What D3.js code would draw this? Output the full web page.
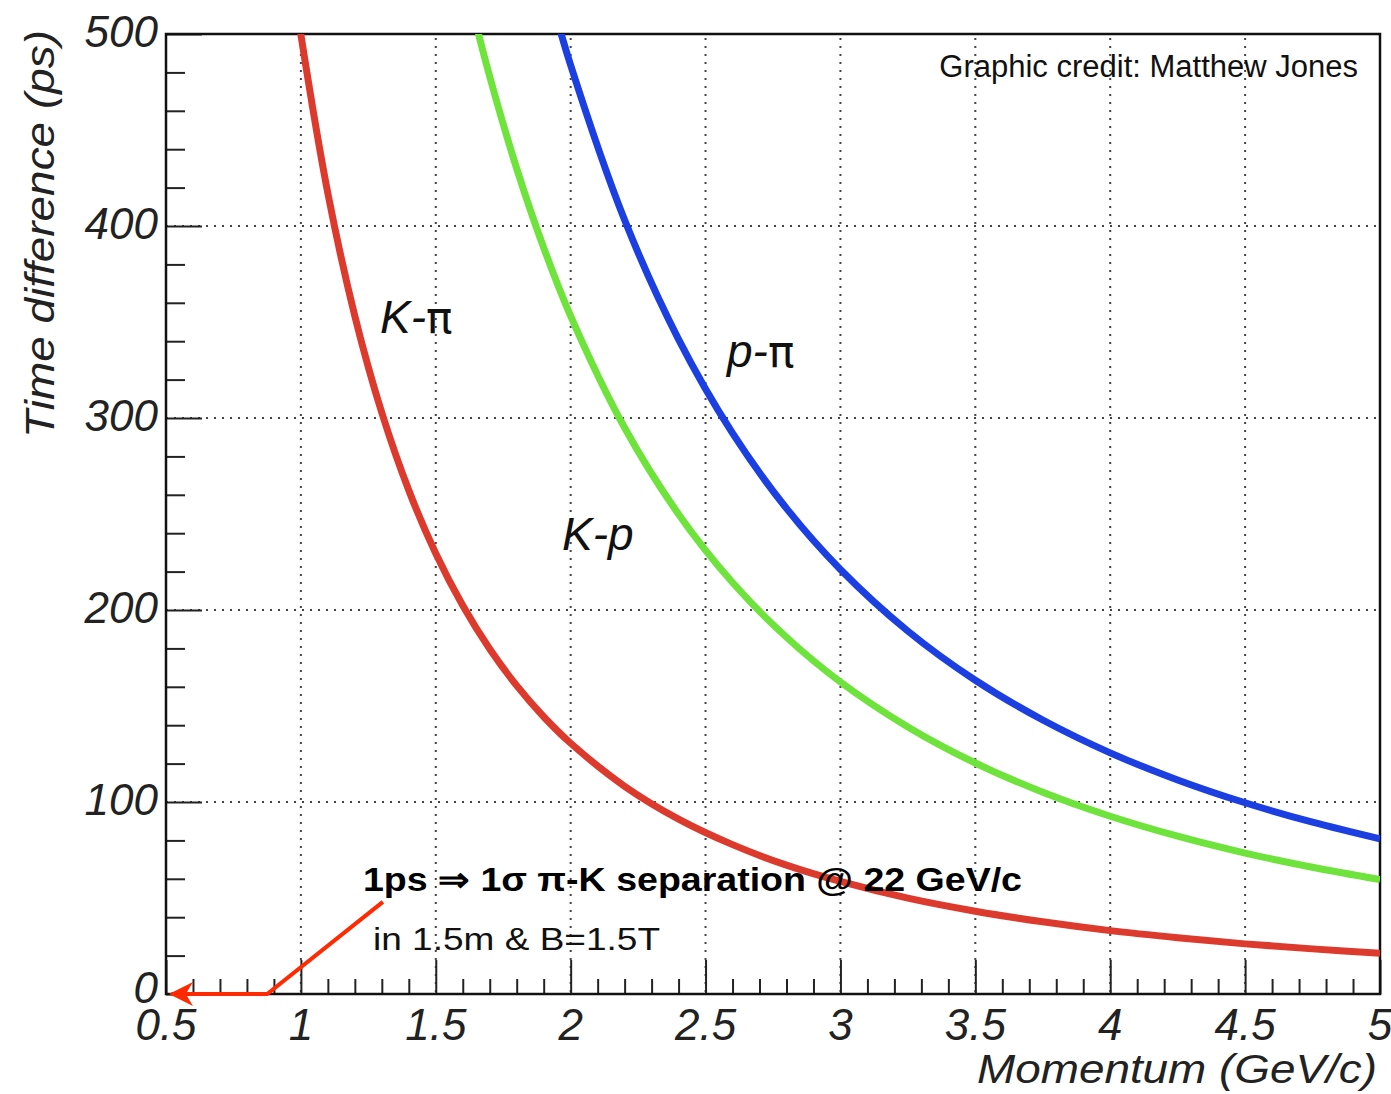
<!DOCTYPE html>
<html>
<head>
<meta charset="utf-8">
<script src="https://cdn.jsdelivr.net/npm/d3@7"></script>
<style>
  body { margin: 0; background: #fff; }
  svg text { font-family: "Liberation Sans", Arial, sans-serif; }
</style>
</head>
<body>
<div id="chart"></div>
<script>
// values: momentum (GeV/c) -> time difference (ps)
const kPiMomentum = [0.98, 1.0, 1.1, 1.2, 1.3, 1.4, 1.5, 1.6, 1.7, 1.8, 1.9, 2.0, 2.2, 2.4, 2.6, 2.8, 3.0, 3.25, 3.5, 3.75, 4.0, 4.25, 4.5, 4.75, 5.0];
const kPiTime = [519.0, 499.6, 417.0, 353.1, 302.7, 262.3, 229.4, 202.3, 179.7, 160.6, 144.4, 130.6, 108.2, 91.1, 77.8, 67.1, 58.6, 49.9, 43.1, 37.6, 33.0, 29.3, 26.1, 23.5, 21.2];

const kPMomentum = [1.64, 1.7, 1.8, 1.9, 2.0, 2.2, 2.4, 2.6, 2.8, 3.0, 3.25, 3.5, 3.75, 4.0, 4.25, 4.5, 4.75, 5.0];
const kPTime = [510.3, 477.8, 429.9, 388.7, 353.1, 294.9, 249.9, 214.3, 185.8, 162.5, 139.1, 120.3, 105.1, 92.6, 82.2, 73.4, 66.0, 59.6];

const pPiMomentum = [1.94, 2.0, 2.2, 2.4, 2.6, 2.8, 3.0, 3.25, 3.5, 3.75, 4.0, 4.25, 4.5, 4.75, 5.0];
const pPiTime = [512.5, 483.7, 403.1, 341.0, 292.1, 252.9, 221.1, 189.0, 163.4, 142.7, 125.6, 111.5, 99.6, 89.5, 80.8];

const xTickLabels = [0.5, 1, 1.5, 2, 2.5, 3, 3.5, 4, 4.5, 5];
const yTickLabels = [0, 100, 200, 300, 400, 500];

// annotation arrow, in data units
const arrowPoints = [[1.304, 48], [0.875, 0], [0.52, 0]];

const width = 1391;
const height = 1094;
const margin = { top: 34, right: 11, bottom: 100, left: 166 };

const x = d3.scaleLinear().domain([0.5, 5]).range([margin.left, width - margin.right]);
const y = d3.scaleLinear().domain([0, 500]).range([height - margin.bottom, margin.top]);

const svg = d3.select('#chart')
  .append('svg')
  .attr('width', width)
  .attr('height', height);

svg.append('rect').attr('width', width).attr('height', height).attr('fill', '#fff');

svg.append('clipPath').attr('id', 'plotclip')
  .append('rect')
  .attr('x', x(0.5)).attr('y', y(500))
  .attr('width', x(5) - x(0.5)).attr('height', y(0) - y(500));

// dotted grid
const grid = svg.append('g').attr('stroke', '#444').attr('stroke-width', 2).attr('stroke-dasharray', '2,6');
grid.selectAll('line.vg')
  .data(xTickLabels.filter((d) => d > 0.5 && d < 5))
  .enter().append('line')
  .attr('class', 'vg')
  .attr('x1', (d) => x(d)).attr('x2', (d) => x(d))
  .attr('y1', y(500) + 4).attr('y2', y(0));
grid.selectAll('line.hg')
  .data(yTickLabels.filter((d) => d > 0 && d < 500))
  .enter().append('line')
  .attr('class', 'hg')
  .attr('x1', x(0.5)).attr('x2', x(5) - 4)
  .attr('y1', (d) => y(d)).attr('y2', (d) => y(d));

// axes: ROOT style ticks pointing inwards
const xAxis = d3.axisBottom(x).tickValues(d3.range(5, 51).map((d) => d / 10))
  .tickSize(0).tickFormat('');
const yAxis = d3.axisLeft(y).tickValues(d3.range(0, 26).map((d) => d * 20))
  .tickSize(0).tickFormat('');

const gx = svg.append('g').attr('transform', `translate(0,${y(0)})`).call(xAxis);
gx.select('.domain').remove();
gx.selectAll('.tick line')
  .attr('stroke', '#222').attr('stroke-width', 2)
  .attr('y2', (d) => (Math.abs(d * 2 - Math.round(d * 2)) < 1e-6 ? -34 : -15));

const gy = svg.append('g').attr('transform', `translate(${x(0.5)},0)`).call(yAxis);
gy.select('.domain').remove();
gy.selectAll('.tick line')
  .attr('stroke', '#222').attr('stroke-width', 2)
  .attr('x2', (d) => (d % 100 === 0 ? 36 : 19));

// frame
svg.append('rect')
  .attr('x', x(0.5)).attr('y', y(500))
  .attr('width', x(5) - x(0.5)).attr('height', y(0) - y(500))
  .attr('fill', 'none').attr('stroke', '#111').attr('stroke-width', 2.5);

// tick labels
svg.selectAll('text.xl')
  .data(xTickLabels)
  .enter().append('text')
  .attr('class', 'xl')
  .attr('x', (d) => x(d))
  .attr('y', y(0) + 46)
  .attr('text-anchor', 'middle')
  .attr('font-size', 44)
  .attr('font-style', 'italic')
  .attr('fill', '#222')
  .text((d) => d);

svg.selectAll('text.yl')
  .data(yTickLabels)
  .enter().append('text')
  .attr('class', 'yl')
  .attr('x', x(0.5) - 8)
  .attr('y', (d) => y(d) + (d === 0 ? 9 : 13))
  .attr('text-anchor', 'end')
  .attr('font-size', 44)
  .attr('font-style', 'italic')
  .attr('fill', '#222')
  .text((d) => d);

// axis titles
svg.append('text')
  .attr('transform', `translate(54,${(30 + 438) / 2}) rotate(-90)`)
  .attr('text-anchor', 'middle')
  .attr('font-size', 40)
  .attr('font-style', 'italic')
  .attr('fill', '#222')
  .attr('textLength', 408)
  .attr('lengthAdjust', 'spacingAndGlyphs')
  .text('Time difference (ps)');

svg.append('text')
  .attr('x', 977)
  .attr('y', 1083)
  .attr('font-size', 40)
  .attr('font-style', 'italic')
  .attr('fill', '#222')
  .attr('textLength', 400)
  .attr('lengthAdjust', 'spacingAndGlyphs')
  .text('Momentum (GeV/c)');

// curves
const series = [
  { name: 'K-π', p: kPiMomentum, t: kPiTime, color: '#dd3a2e' },
  { name: 'K-p', p: kPMomentum, t: kPTime, color: '#6ee33c' },
  { name: 'p-π', p: pPiMomentum, t: pPiTime, color: '#1b3fe0' },
];

const line = d3.line()
  .x((d) => x(d[0]))
  .y((d) => y(d[1]))
  .curve(d3.curveCatmullRom.alpha(0.5));

svg.append('g').attr('clip-path', 'url(#plotclip)')
  .selectAll('path.curve')
  .data(series)
  .enter().append('path')
  .attr('class', 'curve')
  .attr('fill', 'none')
  .attr('stroke', (d) => d.color)
  .attr('stroke-width', 7)
  .attr('stroke-linejoin', 'round')
  .attr('d', (d) => line(d.p.map((p, i) => [p, d.t[i]])));

// curve labels (pi set upright, like the symbol font in the original)
const curveLabels = [
  { a: 'K-', b: 'π', px: 380, py: 333 },
  { a: 'p-', b: 'π', px: 727, py: 367 },
  { a: 'K-p', b: '', px: 562, py: 550 },
];
const cl = svg.selectAll('text.cl')
  .data(curveLabels)
  .enter().append('text')
  .attr('class', 'cl')
  .attr('x', (d) => d.px)
  .attr('y', (d) => d.py)
  .attr('font-size', 46)
  .attr('fill', '#111');
cl.append('tspan').attr('font-style', 'italic').text((d) => d.a);
cl.append('tspan').attr('font-family', 'DejaVu Sans').attr('font-size', 44).text((d) => d.b);

// credit
svg.append('text')
  .attr('x', 1358)
  .attr('y', 77)
  .attr('text-anchor', 'end')
  .attr('font-size', 31)
  .attr('fill', '#111')
  .text('Graphic credit: Matthew Jones');

// annotation
svg.append('text')
  .attr('x', 363)
  .attr('y', 891)
  .attr('font-size', 33)
  .attr('font-weight', 'bold')
  .attr('fill', '#000')
  .attr('textLength', 659)
  .attr('lengthAdjust', 'spacingAndGlyphs')
  .text('1ps ⇒ 1σ π-K separation @ 22 GeV/c');

svg.append('text')
  .attr('x', 373)
  .attr('y', 950)
  .attr('font-size', 32)
  .attr('fill', '#111')
  .attr('textLength', 287)
  .attr('lengthAdjust', 'spacingAndGlyphs')
  .text('in 1.5m & B=1.5T');

svg.append('defs').append('marker')
  .attr('id', 'arrowhead')
  .attr('viewBox', '0 0 10 10')
  .attr('refX', 9).attr('refY', 5)
  .attr('markerWidth', 28).attr('markerHeight', 24)
  .attr('markerUnits', 'userSpaceOnUse')
  .attr('orient', 'auto')
  .append('path')
  .attr('d', 'M0,0 L10,5 L0,10 L3,5 Z')
  .attr('fill', '#ff2a00');

svg.append('path')
  .attr('d', d3.line().x((d) => x(d[0])).y((d) => y(d[1]))(arrowPoints))
  .attr('fill', 'none')
  .attr('stroke', '#ff2a00')
  .attr('stroke-width', 4)
  .attr('marker-end', 'url(#arrowhead)');
</script>
</body>
</html>
